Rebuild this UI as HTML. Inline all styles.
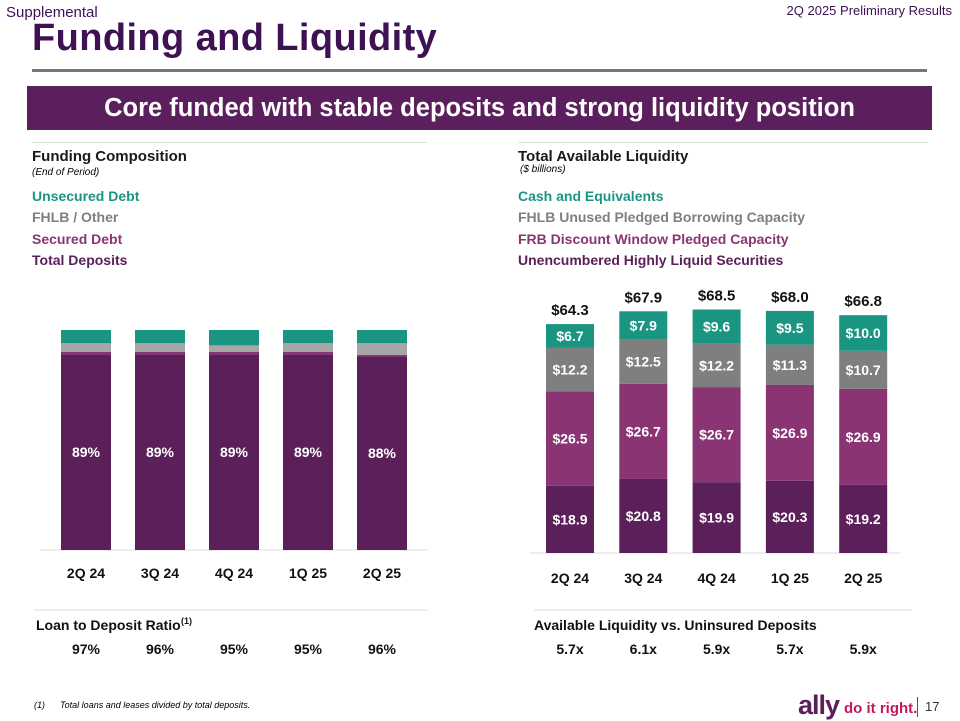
<!DOCTYPE html>
<html><head><meta charset="utf-8"><style>
body{margin:0;width:960px;height:720px;background:#fff;font-family:"Liberation Sans",sans-serif;position:relative;overflow:hidden}
.a{position:absolute;white-space:nowrap}
.h{font-weight:bold;font-size:15px;color:#1a1a1a}
.leg{font-weight:bold;font-size:14px}
</style></head><body>
<div class="a" style="left:6px;top:4px;font-size:15px;color:#3d1152">Supplemental</div>
<div class="a" style="right:8px;top:3px;font-size:13px;color:#3d1152">2Q 2025 Preliminary Results</div>
<div class="a" style="left:32px;top:17px;font-size:38px;font-weight:bold;color:#3d1152;letter-spacing:0.4px">Funding and Liquidity</div>
<div class="a" style="left:32px;top:69px;width:895px;height:3px;background:#777"></div>
<div class="a" style="left:27px;top:86px;width:905px;height:44px;background:#5a1f5c;color:#fff;font-size:25.5px;font-weight:bold;text-align:center;line-height:44px">Core funded with stable deposits and strong liquidity position</div>
<div class="a" style="left:32px;top:142px;width:395px;height:1px;background:#ddd"></div>
<div class="a" style="left:518px;top:142px;width:410px;height:1px;background:#ddd"></div>
<div class="a h" style="left:32px;top:148px">Funding Composition</div>
<div class="a" style="left:32px;top:167px;font-size:10px;font-style:italic">(End of Period)</div>
<div class="a leg" style="left:32px;top:188px;color:#1a9582">Unsecured Debt</div>
<div class="a leg" style="left:32px;top:209px;color:#7f7f7f">FHLB / Other</div>
<div class="a leg" style="left:32px;top:231px;color:#8a3474">Secured Debt</div>
<div class="a leg" style="left:32px;top:252px;color:#5b2059">Total Deposits</div>
<div class="a h" style="left:518px;top:148px">Total Available Liquidity</div>
<div class="a" style="left:520px;top:164px;font-size:10px;font-style:italic">($ billions)</div>
<div class="a leg" style="left:518px;top:188px;color:#1a9582">Cash and Equivalents</div>
<div class="a leg" style="left:518px;top:209px;color:#7f7f7f">FHLB Unused Pledged Borrowing Capacity</div>
<div class="a leg" style="left:518px;top:231px;color:#8a3474">FRB Discount Window Pledged Capacity</div>
<div class="a leg" style="left:518px;top:252px;color:#5b2059">Unencumbered Highly Liquid Securities</div>
<svg class="a" style="left:0;top:0" width="960" height="720" font-family="Liberation Sans, sans-serif" font-weight="bold">
<g id="left"></g><g id="right"></g><g id="bottom"></g>
</svg>
<div class="a" style="left:34px;top:700px;font-size:9px;font-style:italic">(1)&nbsp;&nbsp;&nbsp;&nbsp;&nbsp;&nbsp;Total loans and leases divided by total deposits.</div>
<div class="a" style="left:798px;top:690px;font-size:27px;font-weight:bold;color:#5b2059;letter-spacing:-1px">ally</div>
<div class="a" style="left:844px;top:700px;font-size:15px;font-weight:bold;color:#c2185b">do it right.</div>
<div class="a" style="left:917px;top:697px;width:1px;height:20px;background:#555"></div>
<div class="a" style="left:925px;top:699px;font-size:13px;color:#333">17</div>
<script>
const cats=["2Q 24","3Q 24","4Q 24","1Q 25","2Q 25"];
const depPct=[89,89,89,89,88];
const secPct=[1,1,1,1,0.7];
const fhlbPct=[4,4,3,4,5.3];
const unsPct=[6,6,7,6,6];
const cash=[6.7,7.9,9.6,9.5,10.0];
const fhlbCap=[12.2,12.5,12.2,11.3,10.7];
const frb=[26.5,26.7,26.7,26.9,26.9];
const secur=[18.9,20.8,19.9,20.3,19.2];
const totals=["$64.3","$67.9","$68.5","$68.0","$66.8"];
const ltd=["97%","96%","95%","95%","96%"];
const cov=["5.7x","6.1x","5.9x","5.7x","5.9x"];
const NS="http://www.w3.org/2000/svg";
function mk(g,t,at,txt){const e=document.createElementNS(NS,t);for(const k in at)e.setAttribute(k,at[k]);if(txt!=null)e.textContent=txt;g.appendChild(e);return e;}
const L=document.getElementById('left');
const lx=i=>61+i*74, ly=v=>550-v*2.2;
mk(L,'line',{x1:40,x2:428,y1:550,y2:550,stroke:'#ddd'});
cats.forEach((c,i)=>{
 const segs=[[depPct[i],'#5b2059'],[secPct[i],'#8a3474'],[fhlbPct[i],'#a6a6a6'],[unsPct[i],'#1a9582']];
 let b=0;
 segs.forEach(([v,col])=>{const r=mk(L,'rect',{x:lx(i),width:50,y:ly(b+v),height:v*2.2,fill:col});
 
 b+=v;});
 const t=mk(L,'text',{x:lx(i)+25,y:ly(depPct[i]/2)+5,'text-anchor':'middle',fill:'#fff','font-size':14},depPct[i]+'%');
 
 
 const x=mk(L,'text',{x:lx(i)+25,y:578,'text-anchor':'middle',fill:'#111','font-size':14},c);
 
 
});
const R=document.getElementById('right');
const rx=i=>546+i*73.3, ry=v=>553-v*3.56;
mk(R,'line',{x1:530,x2:900,y1:553,y2:553,stroke:'#ddd'});
cats.forEach((c,i)=>{
 const segs=[[secur[i],'#5b2059'],[frb[i],'#8a3474'],[fhlbCap[i],'#7f7f7f'],[cash[i],'#1a9582']];
 let b=0;
 segs.forEach(([v,col])=>{const r=mk(R,'rect',{x:rx(i),width:48,y:ry(b+v),height:v*3.56,fill:col});
 
 
 const t=mk(R,'text',{x:rx(i)+24,y:ry(b+v/2)+5,'text-anchor':'middle',fill:'#fff','font-size':14},'$'+v.toFixed(1));
 
 
 b+=v;});
 const tt=mk(R,'text',{x:rx(i)+24,y:ry(b)-9,'text-anchor':'middle',fill:'#111','font-size':15},totals[i]);
 
 
 const x=mk(R,'text',{x:rx(i)+24,y:583,'text-anchor':'middle',fill:'#111','font-size':14},c);
 
 
});
const B=document.getElementById('bottom');
mk(B,'line',{x1:34,x2:428,y1:610,y2:610,stroke:'#ddd'});
mk(B,'line',{x1:534,x2:912,y1:610,y2:610,stroke:'#ddd'});
const lt=mk(B,'text',{x:36,y:630,fill:'#111','font-size':14},'Loan to Deposit Ratio');


mk(B,'text',{x:181,y:624,fill:'#111','font-size':9},'(1)');
const ct=mk(B,'text',{x:534,y:630,fill:'#111','font-size':14},'Available Liquidity vs. Uninsured Deposits');


cats.forEach((c,i)=>{
 const a=mk(B,'text',{x:lx(i)+25,y:654,'text-anchor':'middle',fill:'#111','font-size':14},ltd[i]);
 
 
 const b=mk(B,'text',{x:rx(i)+24,y:654,'text-anchor':'middle',fill:'#111','font-size':14},cov[i]);
 
 
});
</script>
</body></html>
